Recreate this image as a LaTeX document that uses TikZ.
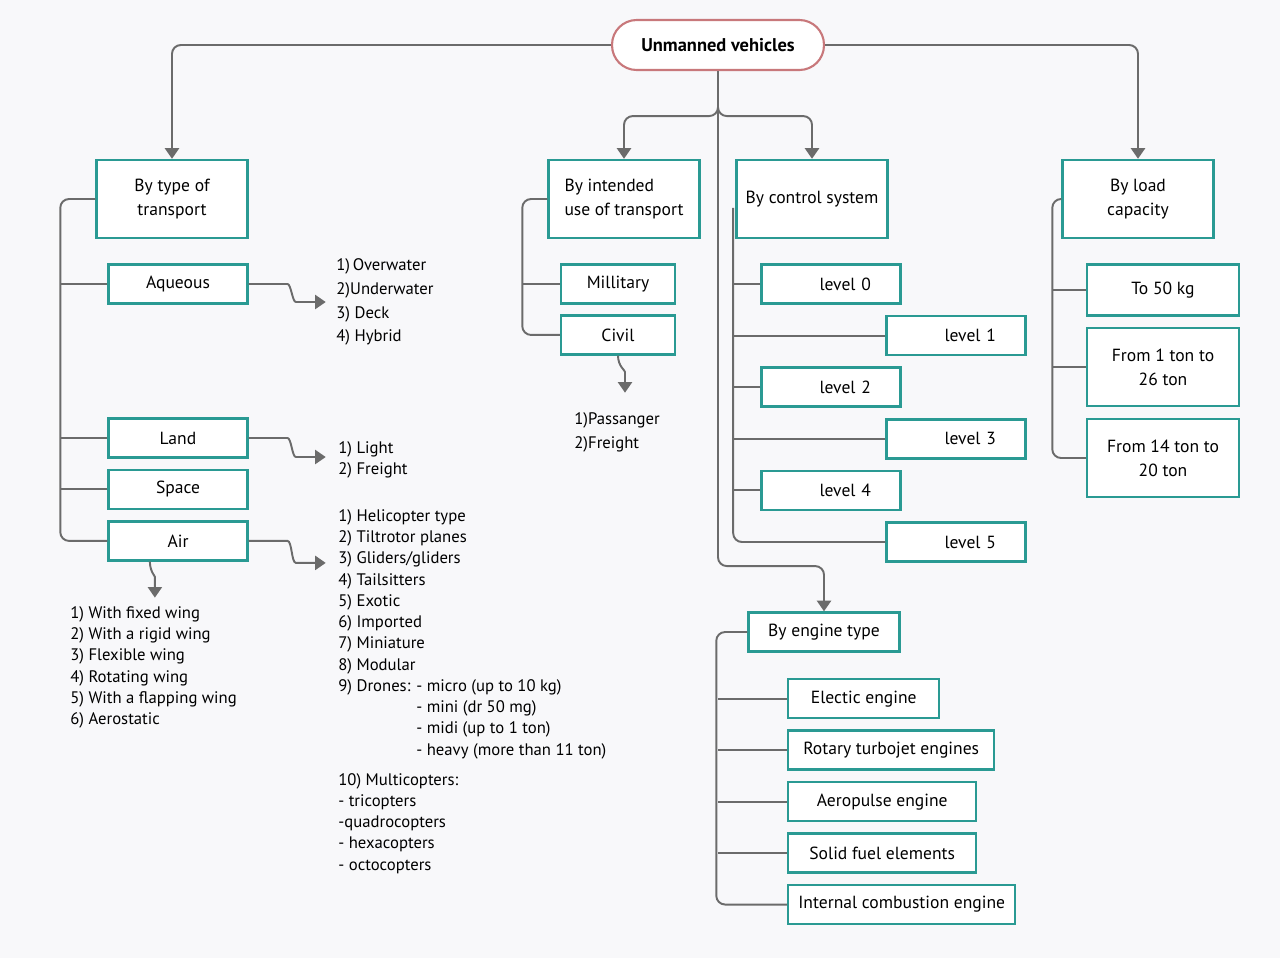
\documentclass[tikz,border=0pt]{standalone}
\usepackage{fontspec}
\setmainfont{PT Sans}
\usetikzlibrary{positioning,arrows.meta}
\definecolor{boxteal}{HTML}{2A9A93}
\definecolor{linegray}{HTML}{6B6B6B}
\definecolor{rootred}{HTML}{C8787B}
\definecolor{paper}{HTML}{F8F8FA}
\tikzset{
  rootbox/.style={rectangle, rounded corners=14pt, draw=rootred, line width=1.2pt, fill=white, minimum width=4.24cm, minimum height=1cm, font=\bfseries\fontsize{10.5}{13}\selectfont},
  catbox/.style={rectangle, draw=boxteal, line width=1.4pt, fill=white, minimum width=3.02cm, minimum height=1.56cm, align=center, font=\fontsize{10}{13.5}\selectfont},
  subbox/.style={rectangle, draw=boxteal, line width=1.4pt, fill=white, minimum width=2.78cm, minimum height=0.78cm, align=center, font=\fontsize{10}{13.5}\selectfont},
  lvlbox/.style={subbox, text width=1.6cm, align=right, inner xsep=0.58cm},
  listtext/.style={anchor=north west, inner sep=0pt, align=left, font=\fontsize{9.5}{12.1}\selectfont},
  bus/.style={draw=linegray, line width=1.1pt, rounded corners=5pt},
  conn/.style={bus, -{Triangle[length=6pt,width=8pt]}},
}
\begin{document}
\begin{tikzpicture}[x=0.02cm, y=-0.02cm]
  \fill[paper] (0,0) rectangle (1280,958);

  % root and the five categories
  \node[rootbox] (root) at (718,45) {Unmanned vehicles};
  \node[catbox] (type) at (172,199) {By type of\\transport};
  \node[catbox, align=left] (intended) at (624,199) {By intended\\use of transport};
  \node[catbox] (control) at (812,199) {By control system};
  \node[catbox] (load) at (1138,199) {By load\\capacity};
  \node[catbox, minimum height=0.78cm] (engine) at (824,632) {By engine type};

  % by type of transport
  \node[subbox] (aqueous) at (178,284) {Aqueous};
  \node[subbox] (land) at (178,438) {Land};
  \node[subbox] (space) [below=0.2cm of land] {Space};
  \node[subbox] (air) [below=0.2cm of space] {Air};

  % by intended use
  \node[subbox, minimum width=2.28cm] (military) at (618,284) {Millitary};
  \node[subbox, minimum width=2.28cm] (civil) [below=0.19cm of military] {Civil};

  % by control system
  \foreach \i/\x in {0/831,1/956,2/831,3/956,4/831,5/956}
    \node[lvlbox] (lvl\i) at (\x,284+51.6*\i) {level \i};

  % by engine type
  \node[subbox, minimum width=3.02cm, anchor=north west] (elec) at (787,678) {Electic engine};
  \node[subbox, minimum width=4.12cm] (rotary) [below right=0.2cm and 0cm of elec.south west] {Rotary turbojet engines};
  \node[subbox, minimum width=3.76cm] (aero) [below right=0.2cm and 0cm of rotary.south west] {Aeropulse engine};
  \node[subbox, minimum width=3.76cm] (solid) [below right=0.2cm and 0cm of aero.south west] {Solid fuel elements};
  \node[subbox, minimum width=4.54cm] (ice) [below right=0.2cm and 0cm of solid.south west] {Internal combustion engine};

  % by load capacity
  \node[subbox, minimum width=3.04cm, minimum height=1.02cm] (t50) at (1163,290) {To 50 kg};
  \node[catbox, minimum width=3.04cm] (t1) at (1163,367) {From 1 ton to\\26 ton};
  \node[catbox, minimum width=3.04cm] (t14) at (1163,458) {From 14 ton to\\20 ton};

  % lists
  \node[listtext, font=\fontsize{9.5}{13.6}\selectfont] (aqlist) at (336,258) {1)\,Overwater\\2)Underwater\\3) Deck\\4) Hybrid};
  \node[listtext] (landlist) at (338,441) {1) Light\\2) Freight};
  \node[listtext] (airlist) at (338,509) {1) Helicopter type\\2) Tiltrotor planes\\3) Gliders/gliders\\4) Tailsitters\\5) Exotic\\6) Imported\\7) Miniature\\8) Modular\\9) Drones: - micro (up to 10 kg)\\\phantom{9) Drones: }- mini (dr 50 mg)\\\phantom{9) Drones: }- midi (up to 1 ton)\\\phantom{9) Drones: }- heavy (more than 11 ton)\\[5pt]10) Multicopters:\\- tricopters\\-quadrocopters\\- hexacopters\\- octocopters};
  \node[listtext] (winglist) at (70,606) {1) With fixed wing\\2) With a rigid wing\\3) Flexible wing\\4) Rotating wing\\5) With a flapping wing\\6) Aerostatic};
  \node[listtext, font=\fontsize{9.5}{13.6}\selectfont] (civillist) at (574,412) {1)Passanger\\2)Freight};

  % from the root
  \draw[conn] (root.west) -| (type.north);
  \draw[conn] (root.east) -| (load.north);
  \draw[conn] (root.south) -- ++(0,45) -| (intended.north);
  \draw[conn] (root.south) -- ++(0,45) -| (control.north);
  \draw[conn] (root.south) -- ++(0,495) -| (engine.north);

  % buses
  \draw[bus] (type.west) -- ++(-35,0) |- (air.west);
  \foreach \n in {aqueous,land,space}
    \draw[bus] (\n.west) -- ++(-47,0);
  \draw[bus] (intended.west) -- ++(-25,0) |- (civil.west);
  \draw[bus] (military.west) -- ++(-38,0);
  \coordinate (ctrlbus) at ([xshift=-1.2pt,yshift=-5pt]control.west);
  \draw[bus] (ctrlbus) |- (lvl5.west);
  \foreach \i in {0,...,4}
    \draw[bus] (lvl\i.west) -- (lvl\i.west -| ctrlbus);
  \draw[bus] (engine.west) -- ++(-31,0) |- (ice.west);
  \foreach \n in {elec,rotary,aero,solid}
    \draw[bus] (\n.west) -- ++(-69,0);
  \draw[bus] (load.west) -- ++(-9,0) |- (t14.west);
  \foreach \n in {t50,t1}
    \draw[bus] (\n.west) -- ++(-34,0);

  % to the lists
  \draw[conn] (aqueous.east) -- ++(30,0) to[out=0,in=180] ++(26,18) -- ++(21,0);
  \draw[conn] (land.east) -- ++(30,0) to[out=0,in=180] ++(26,19) -- ++(21,0);
  \draw[conn] (air.east) -- ++(30,0) to[out=0,in=180] ++(26,22) -- ++(21,0);
  \draw[conn] ([xshift=-16pt]air.south) to[out=270,in=90] ++(5,24) -- ++(0,12);
  \draw[conn] (civil.south) to[out=270,in=90] ++(7,25) -- ++(0,12);
\end{tikzpicture}
\end{document}
